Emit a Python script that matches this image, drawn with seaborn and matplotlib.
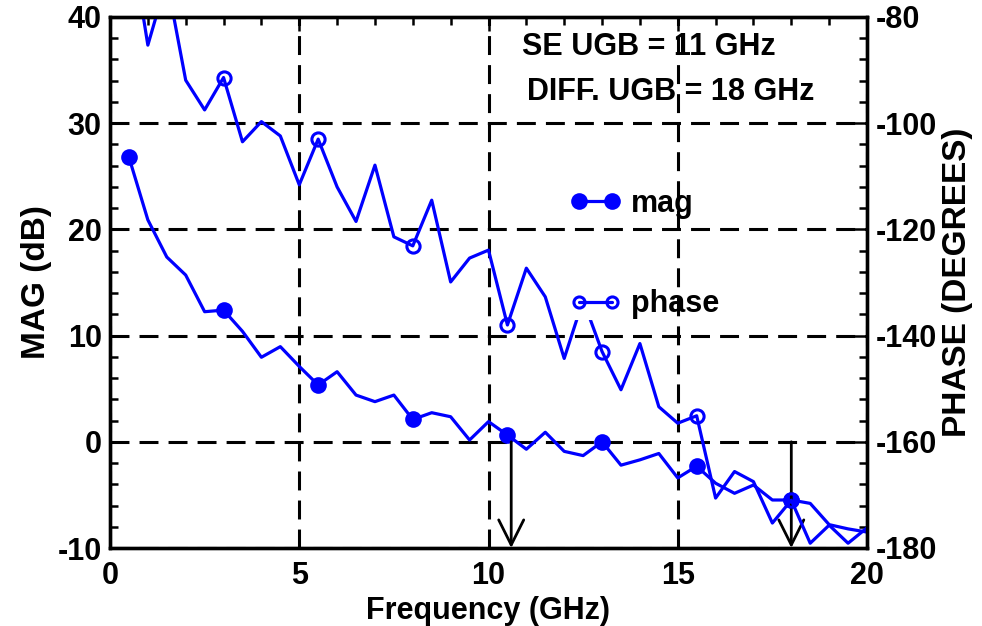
import matplotlib
matplotlib.use("Agg")
import matplotlib.pyplot as plt
from matplotlib.legend_handler import HandlerTuple
from matplotlib.lines import Line2D
from matplotlib.ticker import MultipleLocator
import pandas as pd
import seaborn as sns

# Frequency sweep (GHz) and measured open-loop response
freq_ghz = [0.5, 1.0, 1.5, 2.0, 2.5, 3.0, 3.5, 4.0, 4.5, 5.0,
            5.5, 6.0, 6.5, 7.0, 7.5, 8.0, 8.5, 9.0, 9.5, 10.0,
            10.5, 11.0, 11.5, 12.0, 12.5, 13.0, 13.5, 14.0, 14.5, 15.0,
            15.5, 16.0, 16.5, 17.0, 17.5, 18.0, 18.5, 19.0, 19.5, 20.0]
mag_db = [26.8, 20.9, 17.4, 15.7, 12.25, 12.4, 10.4, 7.96, 8.96, 7.1,
          5.35, 6.6, 4.4, 3.78, 4.4, 2.1, 2.74, 2.36, 0.17, 1.9,
          0.64, -0.7, 0.9, -0.9, -1.3, 0.0, -2.2, -1.7, -1.1, -3.4,
          -2.3, -3.9, -4.85, -4.07, -5.48, -5.48, -5.8, -7.8, -8.2, -8.5]
phase_deg = [-63.0, -85.3, -73.0, -91.9, -97.5, -91.4, -103.5, -99.7, -102.4, -111.6,
             -103.0, -112.0, -118.5, -107.9, -121.4, -123.1, -114.5, -129.9, -125.4, -123.9,
             -138.0, -127.3, -132.7, -144.3, -133.3, -143.0, -150.2, -141.5, -153.4, -156.5,
             -155.1, -170.6, -165.6, -167.5, -175.3, -171.0, -179.1, -175.7, -179.1, -176.2]

# Unity-gain bandwidths (single-ended, differential)
ugb_names = ["SE UGB", "DIFF. UGB"]
ugb_ghz = [10.6, 18.0]
series_labels = ["mag", "phase"]

BLUE = "#0000ff"

sns.set_theme(style="white")
plt.rcParams["font.family"] = ["Liberation Sans", "DejaVu Sans"]
plt.rcParams["font.weight"] = "bold"
plt.rcParams["axes.labelweight"] = "bold"
plt.rcParams["axes.unicode_minus"] = False
plt.rcParams["text.color"] = "black"
plt.rcParams["axes.labelcolor"] = "black"

df = pd.DataFrame({"freq": freq_ghz, "mag": mag_db, "phase": phase_deg})

fig = plt.figure(figsize=(9.82, 6.26), dpi=100)
ax1 = fig.add_axes([110 / 982, 78 / 626, 757 / 982, 531 / 626])
ax2 = ax1.twinx()

sns.lineplot(data=df, x="freq", y="mag", ax=ax1, color=BLUE, lw=2.3,
             marker="o", ms=12, mew=0, mec=BLUE, markevery=5, legend=False)
sns.lineplot(data=df, x="freq", y="phase", ax=ax2, color=BLUE, lw=2.3,
             marker="o", ms=9.5, mfc="none", mew=2.2, mec=BLUE, markevery=5,
             legend=False)

ax1.set_xlim(0, 20)
ax1.set_ylim(-10, 40)
ax2.set_ylim(-180, -80)

ax1.xaxis.set_major_locator(MultipleLocator(5))
ax1.xaxis.set_minor_locator(MultipleLocator(1))
ax1.yaxis.set_major_locator(MultipleLocator(10))
ax1.yaxis.set_minor_locator(MultipleLocator(2))
ax2.yaxis.set_major_locator(MultipleLocator(20))
ax2.yaxis.set_minor_locator(MultipleLocator(4))

ax1.grid(True, which="major", color="black", lw=2.2, ls=(0, (6.2, 3.3)))
ax2.grid(False)

for ax in (ax1, ax2):
    for sp in ax.spines.values():
        sp.set_color("black")
        sp.set_linewidth(2.4)

ax1.tick_params(axis="both", which="both", direction="in", colors="black",
                top=True, right=False, labelsize=22, pad=6)
ax1.tick_params(axis="x", pad=9)
ax1.tick_params(which="major", length=10, width=1.8)
ax1.tick_params(which="minor", length=6, width=1.8)
ax2.tick_params(axis="y", which="both", direction="in", colors="black",
                right=True, labelsize=22, pad=6)
ax2.tick_params(which="major", length=10, width=1.8)
ax2.tick_params(which="minor", length=6, width=1.8)

ax1.set_xlabel("Frequency (GHz)", fontsize=22, labelpad=4, color="black")
ax1.set_ylabel("MAG (dB)", fontsize=24, labelpad=4, color="black")
ax2.set_ylabel("PHASE (DEGREES)", fontsize=24, labelpad=4, color="black")

# Unity-gain annotations: text and arrows dropping from 0 dB to the axis
text_pos = [(0.544, 0.928), (0.5505, 0.8437)]
for name, f, (tx, ty) in zip(ugb_names, ugb_ghz, text_pos):
    ax1.text(tx, ty, f"{name} = {f:.0f} GHz", transform=ax1.transAxes,
             fontsize=22, ha="left", va="baseline", color="black", zorder=6)
    ax1.annotate("", xy=(f, -10), xytext=(f, 0),
                 arrowprops=dict(arrowstyle="->,head_length=0.9,head_width=0.45",
                                 color="black", lw=2.0, shrinkA=0, shrinkB=0,
                                 mutation_scale=20), zorder=6)

# Legend keys; the phase key sits on a white band that masks the trace behind it
mag_key = Line2D([], [], color=BLUE, lw=2.3, marker="o", ms=12, mew=0)
phase_mask = Line2D([], [], color="white", lw=26, solid_capstyle="projecting")
phase_key = Line2D([], [], color=BLUE, lw=2.3, marker="o", ms=8, mfc="none", mew=2.2)
leg = ax2.legend([mag_key, (phase_mask, phase_key)], series_labels,
                 handler_map={tuple: HandlerTuple(ndivide=1)},
                 loc="upper left", numpoints=2,
                 bbox_to_anchor=(0.6077, 0.676), frameon=False, fontsize=22,
                 borderpad=0, borderaxespad=0, handlelength=1.68,
                 handletextpad=0.3, labelspacing=2.3)
for t in leg.get_texts():
    t.set_color("black")

fig.savefig("out.png", dpi=100, facecolor="white")
